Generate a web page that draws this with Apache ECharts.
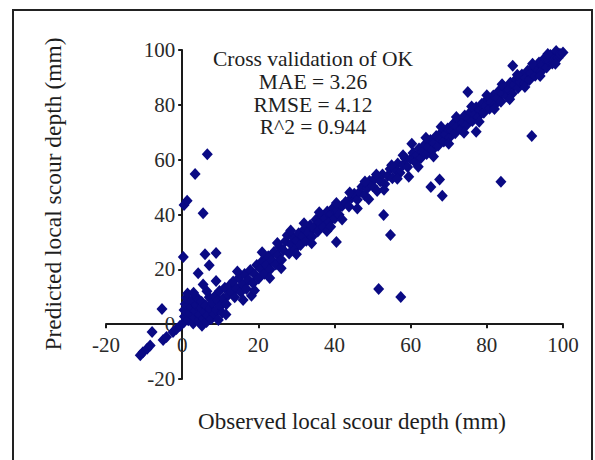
<!DOCTYPE html>
<html>
<head>
<meta charset="utf-8">
<script src="https://cdn.jsdelivr.net/npm/echarts@6/dist/echarts.min.js"></script>
<style>
html,body{margin:0;padding:0;background:#ffffff;}
#chart{width:595px;height:460px;}
</style>
</head>
<body>
<div id="chart"></div>
<script>
// Tick labels
var xTicks = [-20, 0, 20, 40, 60, 80, 100];
var yTicks = [-20, 0, 20, 40, 60, 80, 100];

// Annotation lines
var statsLines = ["Cross validation of OK", "MAE = 3.26", "RMSE = 4.12", "R^2 = 0.944"];

// [observed, predicted] pairs
var negativePoints = [
  [-11.0,-11.3],[-10.3,-10.2],[-9.2,-9.0],[-8.4,-7.8],[-7.9,-2.9],[-5.0,-5.8],
  [-4.1,-4.7],[-2.4,-2.9],[-1.5,-1.8],[-0.6,-0.7]
];
var originCluster = [
  [0.4,0.6],[0.6,2.8],[0.5,5.2],[0.8,7.4],[1.1,9.6],[1.4,11.2],[1.6,1.4],[2.1,3.9],
  [2.3,6.3],[2.6,8.7],[2.9,0.2],[3.2,2.4],[3.4,4.8],[3.7,7.1],[4.1,9.4],[4.3,1.2],
  [4.6,3.6],[4.9,5.9],[5.1,8.2],[5.2,-0.6],[5.6,2.1],[5.9,4.4],[6.2,6.9],[6.4,0.8],
  [6.7,3.2],[7.1,9.8],[7.3,5.6],[7.6,1.9],[8.0,7.7],[8.4,3.8],[8.7,10.4],[9.0,5.3],
  [9.4,8.6],[9.8,12.1],[10.1,6.6],[10.5,4.2],[10.8,9.4],[11.2,13.3],[11.6,7.3],
  [12.1,10.6],[12.5,14.2],[12.9,11.8],[3.0,11.5],[6.5,12.0],[9.5,1.5],[11.5,3.5]
];
var bandLow = [
  [13.4,15.6],[13.8,9.8],[14.3,13.1],[14.9,16.9],[15.4,11.7],[15.9,14.6],[16.4,18.3],
  [16.9,12.8],[17.4,16.2],[17.9,19.8],[18.2,10.4],[18.6,14.9],[19.1,18.1],[19.6,21.6],
  [20.1,16.7],[20.6,20.2],[21.1,23.1],[21.6,18.4],[22.1,21.7],[22.6,24.8],[23.1,19.9],
  [23.6,23.2],[24.1,26.3],[24.6,21.8],[25.1,25.1],[25.6,28.2],[26.1,23.4],[26.6,27.0],
  [27.1,30.2],[27.6,32.4],[28.1,25.8],[28.6,29.1],[29.1,31.6],[29.6,27.4],[30.1,30.6],
  [30.6,33.2],[14.5,19.2],[16.0,8.8],[19.0,12.3],[21.0,26.2],[23.0,16.8],[25.0,29.6],
  [26.0,20.4],[28.5,34.2],[30.0,25.5]
];
var bandMid = [
  [31.1,28.9],[31.6,32.1],[32.1,34.6],[32.6,30.4],[33.1,33.4],[33.6,36.1],[34.1,31.9],
  [34.6,35.2],[35.1,38.1],[35.6,33.8],[36.1,37.0],[36.6,39.6],[37.1,35.4],[37.6,38.6],
  [38.1,41.1],[38.6,37.2],[39.1,40.2],[39.6,42.4],[40.1,38.6],[40.6,41.6],[41.2,39.9],
  [42.0,43.1],[42.9,44.6],[43.8,42.9],[44.5,46.1],[45.2,47.6],[46.0,45.4],[46.6,48.2],
  [47.2,50.1],[48.0,46.9],[48.6,49.6],[49.2,52.2],[50.0,50.4],[50.6,53.1],[51.2,48.6],
  [52.0,52.1],[52.6,54.6],[53.2,51.1],[54.0,54.1],[54.6,56.6],[55.2,53.2],[56.0,56.1],
  [56.6,58.6],[57.2,55.2],[58.0,58.1],[58.6,60.4],[59.2,57.3],[60.0,60.2],[60.6,62.4],
  [32.0,36.8],[34.0,29.5],[36.0,40.8],[38.0,34.0],[40.5,44.2],[42.0,38.2],[44.0,48.0],
  [46.0,42.2],[48.0,52.0],[49.0,45.6],[51.0,54.6],[53.0,49.0],[55.0,58.0],[56.5,53.0],
  [58.0,61.6]
];
var bandHigh = [
  [61.2,59.1],[61.7,61.6],[62.2,64.1],[62.7,60.6],[63.2,63.1],[63.7,65.4],[64.2,62.1],
  [64.7,64.6],[65.2,67.2],[65.7,63.4],[66.2,66.1],[66.7,68.6],[67.2,65.1],[67.7,67.6],
  [68.2,70.1],[68.7,66.6],[69.2,69.1],[69.7,71.4],[70.2,68.1],[70.7,70.6],[71.2,73.1],
  [71.7,69.6],[72.2,72.1],[72.7,74.4],[73.2,71.1],[73.7,73.6],[74.2,76.1],[74.7,72.6],
  [75.2,75.1],[75.7,77.4],[76.2,74.1],[76.7,76.6],[77.2,79.1],[77.7,75.6],[78.2,78.1],
  [78.7,80.4],[79.2,77.1],[79.7,79.6],[80.2,82.1],[80.7,78.6],[81.2,81.1],[81.7,83.4],
  [82.2,80.1],[82.7,82.6],[83.2,85.1],[83.7,81.1],[84.2,84.1],[84.7,86.4],[85.2,83.1],
  [85.7,85.6],[86.2,88.1],[86.7,84.1],[87.2,87.1],[87.7,89.4],[88.2,86.1],[88.7,88.6],
  [89.2,91.1],[89.7,87.6],[90.2,90.1],[90.7,92.4],[91.2,89.1],[91.7,91.6],[92.2,94.1],
  [92.7,90.6],[93.2,93.1],[93.7,95.4],[94.2,92.1],[94.7,94.6],[95.2,97.1],[95.7,93.6],
  [96.2,96.1],[96.7,98.2],[97.2,95.1],[97.7,97.6],[98.2,99.6],[98.7,97.1],[99.2,98.6],
  [99.6,100.2],[100.0,99.1],[62.0,57.4],[64.0,68.0],[66.0,61.2],[68.0,72.0],[70.0,65.8],
  [72.0,75.6],[74.0,69.8],[76.0,79.4],[78.0,73.8],[80.0,83.5],[82.0,78.5],[84.0,87.5],
  [86.0,82.0],[88.0,91.0],[90.0,86.5],[92.0,95.0],[94.0,90.5],[96.0,98.5],[98.0,95.0]
];
var outlierPoints = [
  [0.5,43.5],[1.3,45.0],[3.4,54.8],[6.6,62.0],[5.5,40.5],[0.3,24.5],[6.0,25.5],
  [8.9,26.0],[7.1,21.5],[4.2,18.6],[8.9,15.7],[5.5,14.5],[-5.3,5.5],[86.8,94.3],
  [75.0,84.7],[77.2,70.2],[91.8,68.6],[60.3,65.8],[59.5,53.8],[65.3,50.0],[67.6,52.8],
  [68.3,46.8],[83.7,51.9],[52.9,39.8],[54.7,32.5],[40.5,30.0],[39.0,35.5],[51.6,12.8],
  [57.4,9.9]
];

var allPoints = [].concat(negativePoints, originCluster, bandLow, bandMid, bandHigh, outlierPoints);

var W = 595, H = 460;
var gridL = 106, gridR = 32, gridT = 50, gridB = 81;
var xMin = xTicks[0], xMax = xTicks[xTicks.length - 1];
var yMin = yTicks[0], yMax = yTicks[yTicks.length - 1];
// shift the axes so they cross at the data origin, as in the reference
var plotW = W - gridL - gridR, plotH = H - gridT - gridB;
var yAxisShift = (0 - xMin) / (xMax - xMin) * plotW;
var xAxisShift = (0 - yMin) / (yMax - yMin) * plotH;

var serif = "'Liberation Serif', 'Times New Roman', serif";
var chart = echarts.init(document.getElementById('chart'), null, {renderer: 'svg'});

var statGraphics = statsLines.map(function (t, i) {
  return {
    type: 'text', x: 313, y: 59 + i * 22.8,
    style: {text: t, font: '21.5px ' + serif, fill: '#1e1e1e', textAlign: 'center', textVerticalAlign: 'middle'}
  };
});

chart.setOption({
  animation: false,
  backgroundColor: '#ffffff',
  grid: {left: gridL, right: gridR, top: gridT, bottom: gridB},
  xAxis: {
    type: 'value', min: xMin, max: xMax, interval: 20, position: 'bottom',
    offset: -xAxisShift,
    axisLine: {onZero: false, lineStyle: {color: '#1a1a1a', width: 2}},
    axisTick: {show: true, length: 4, lineStyle: {color: '#1a1a1a', width: 2}},
    axisLabel: {margin: 10, fontFamily: serif, fontSize: 21, color: '#2a2a2a'},
    splitLine: {show: false}
  },
  yAxis: {
    type: 'value', min: yMin, max: yMax, interval: 20, position: 'left',
    offset: -yAxisShift,
    axisLine: {show: true, onZero: false, lineStyle: {color: '#1a1a1a', width: 2}},
    axisTick: {show: true, length: 4, lineStyle: {color: '#1a1a1a', width: 2}},
    axisLabel: {margin: 7, fontFamily: serif, fontSize: 21, color: '#2a2a2a'},
    splitLine: {show: false}
  },
  graphic: [
    {type: 'rect', shape: {x: 13, y: 10, width: 579, height: 470},
     style: {fill: 'none', stroke: '#222222', lineWidth: 2}, silent: true},
    {type: 'text', x: 352, y: 421,
     style: {text: 'Observed local scour depth (mm)', font: '23px ' + serif, fill: '#1e1e1e', textAlign: 'center', textVerticalAlign: 'middle'}},
    {type: 'text', x: 53, y: 194, rotation: Math.PI / 2,
     style: {text: 'Predicted local scour depth (mm)', font: '23.5px ' + serif, fill: '#1e1e1e', textAlign: 'center', textVerticalAlign: 'middle'}}
  ].concat(statGraphics),
  series: [{
    type: 'scatter',
    symbol: 'diamond',
    symbolSize: [11, 12],
    itemStyle: {color: '#0a0a84', opacity: 1},
    data: allPoints
  }]
});
</script>
</body>
</html>
